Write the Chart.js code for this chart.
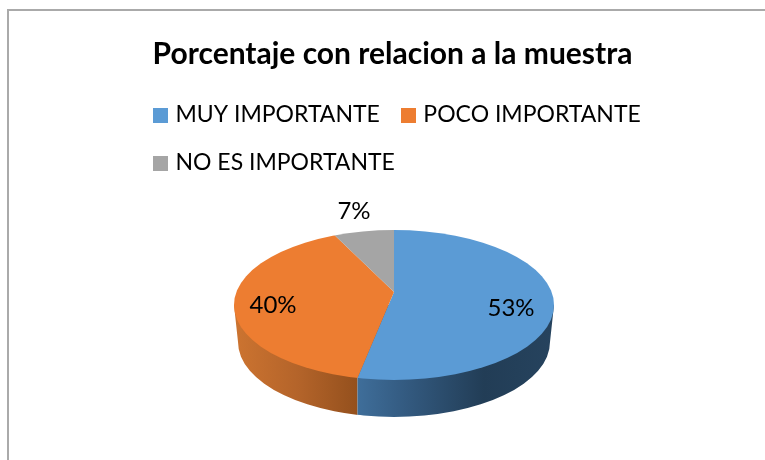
<!DOCTYPE html>
<html><head><meta charset="utf-8">
<style>
html,body{margin:0;padding:0;background:#fff;overflow:hidden}
#frame{position:absolute;left:7px;top:9px;width:758px;height:451px;border-left:2px solid #aaa;border-top:2px solid #aaa;box-sizing:border-box}
#wrap{position:absolute;left:0;top:0;width:765px;height:460px}
</style>
<script src="https://cdn.jsdelivr.net/npm/chart.js@4"></script>
</head><body>
<div id="frame"></div>
<div id="wrap"><canvas id="c" width="765" height="460"></canvas></div>
<script>
const titleText = 'Porcentaje con relacion a la muestra';
const categories = ['MUY IMPORTANTE', 'POCO IMPORTANTE', 'NO ES IMPORTANTE'];
const percentages = [53, 40, 7];
const sliceColors = ['#5B9BD5', '#ED7D31', '#A5A5A5'];

const top3d = {cx: 394, cy: 305, rx: 160, ry: 75, ax: 394, ay: 292, squash: 0.45};
const bottom3d = {cx: 394, cy: 342, rx: 156, ry: 75};
const labelAnchors = [[511, 308], [273, 305], [354, 211]];
const legendShift = 32;

function boxImage(color) {
  const b = document.createElement('canvas');
  b.width = 15; b.height = 15;
  const g = b.getContext('2d');
  g.fillStyle = color; g.fillRect(0, 0, 15, 15);
  return b;
}
function boundaryX(angle) {
  const t = top3d, dx = Math.cos(angle), dy = Math.sin(angle) * t.squash;
  let r = 0;
  while (r < 400) {
    const x = t.ax + dx * r, y = t.ay + dy * r;
    if (((x - t.cx) / t.rx) ** 2 + ((y - t.cy) / t.ry) ** 2 > 1) break;
    r += 0.25;
  }
  return t.ax + dx * r;
}
const pie3d = {
  id: 'pie3d',
  afterLayout(chart) { chart.legend.left += legendShift; },
  beforeDatasetsDraw(chart) {
    const ctx = chart.ctx, t = top3d, b = bottom3d;
    const split = boundaryX(chart.getDatasetMeta(0).data[0].endAngle);
    const hull = () => {
      ctx.beginPath();
      ctx.moveTo(t.cx - t.rx, t.cy);
      ctx.lineTo(b.cx - b.rx, b.cy);
      ctx.ellipse(b.cx, b.cy, b.rx, b.ry, 0, Math.PI, 0, true);
      ctx.lineTo(t.cx + t.rx, t.cy);
      ctx.closePath();
    };
    const o = ctx.createLinearGradient(238, 0, split, 0);
    o.addColorStop(0, '#CB7330'); o.addColorStop(0.5, '#B4642A'); o.addColorStop(1, '#94501D');
    const bl = ctx.createLinearGradient(split, 0, 552, 0);
    bl.addColorStop(0, '#3F6E9A'); bl.addColorStop(0.25, '#335A80'); bl.addColorStop(0.65, '#223D56'); bl.addColorStop(1, '#26435E');
    ctx.save(); ctx.beginPath(); ctx.rect(0, 0, split, 460); ctx.clip(); hull(); ctx.fillStyle = o; ctx.fill(); ctx.restore();
    ctx.save(); ctx.beginPath(); ctx.rect(split, 0, 765 - split, 460); ctx.clip(); hull(); ctx.fillStyle = bl; ctx.fill(); ctx.restore();
  },
  beforeDatasetDraw(chart) {
    const ctx = chart.ctx, t = top3d, el = chart.getDatasetMeta(0).data[0];
    ctx.save();
    ctx.beginPath();
    ctx.ellipse(t.cx, t.cy, t.rx, t.ry, 0, 0, Math.PI * 2);
    ctx.clip();
    const k = 260 / el.outerRadius;
    ctx.translate(t.ax, t.ay);
    ctx.scale(k, k * t.squash);
    ctx.translate(-el.x, -el.y);
  },
  afterDatasetDraw(chart) { chart.ctx.restore(); },
  afterDatasetsDraw(chart) {
    const ctx = chart.ctx;
    ctx.save();
    ctx.fillStyle = '#000';
    ctx.font = '24px Lato';
    ctx.textAlign = 'center';
    ctx.textBaseline = 'middle';
    percentages.forEach((v, i) => ctx.fillText(v + '%', labelAnchors[i][0], labelAnchors[i][1]));
    ctx.restore();
  }
};
new Chart(document.getElementById('c'), {
  type: 'pie',
  data: {labels: categories, datasets: [{data: percentages, backgroundColor: sliceColors, borderWidth: 0}]},
  plugins: [pie3d],
  options: {
    responsive: false, animation: false,
    layout: {padding: {left: 100, right: 80, top: 36, bottom: 0}},
    plugins: {
      tooltip: {enabled: false},
      title: {display: true, text: titleText, color: '#000', font: {family: 'Lato', size: 30, weight: 'bold'}, padding: {top: 0, bottom: 6.5}},
      legend: {
        position: 'top', align: 'start',
        labels: {
          color: '#000', font: {family: 'Lato', size: 23}, padding: 25, usePointStyle: true, pointStyleWidth: 7, boxHeight: 15,
          generateLabels(chart) {
            return Chart.controllers.pie.overrides.plugins.legend.labels.generateLabels(chart).map((l, i) => {
              l.pointStyle = boxImage(sliceColors[i]); return l;
            });
          }
        }
      }
    }
  }
});
</script>
</body></html>
